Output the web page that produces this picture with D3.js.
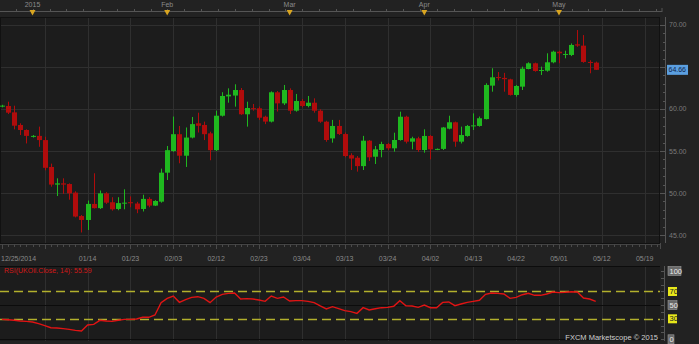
<!DOCTYPE html>
<html>
<head>
<meta charset="utf-8">
<script src="https://cdn.jsdelivr.net/npm/d3@7"></script>
<style>
  html, body { margin: 0; padding: 0; background: #222222; }
  svg { display: block; font-family: "Liberation Sans", Arial, sans-serif; }
</style>
</head>
<body>
<div id="chart"></div>
<script>
// daily UKOil candles, 12/25/2014 .. 05/11/2015
const opens  = [60.3,60.36,59.6,58.1,57.5,56.7,56.8,56.3,53.1,51.0,51.15,51.07,50.05,47.26,46.79,48.7,48.2,49.96,48.9,48.1,
  48.75,48.9,48.75,48.1,49.3,48.5,48.97,52.42,55.0,57.0,54.44,56.6,58.3,58.1,57.1,55.1,59.2,61.5,61.6,62.26,
  59.37,60.1,60.08,59.08,58.5,61.99,60.67,62.26,59.8,60.95,60.36,60.75,59.8,58.49,56.5,57.98,57.02,54.5,54.2,53.2,
  56.23,54.32,55.12,55.83,55.32,56.31,59.08,56.11,56.51,55.12,56.79,55.2,55.25,57.66,58.42,56.11,56.79,57.95,57.98,58.8,
  62.78,63.8,63.7,63.53,61.67,62.66,64.76,65.44,64.56,64.56,65.56,66.82,66.44,66.43,67.7,67.54,65.6,65.52]
const highs  = [60.5,60.87,60.39,58.3,57.58,56.9,57.9,56.7,53.5,51.75,51.75,51.15,50.2,47.38,49.1,52.35,50.3,50.1,49.5,49.5,
  50.44,49.6,48.95,49.8,49.5,49.15,52.9,55.6,59.1,57.98,57.8,59.05,59.56,58.5,57.3,59.8,62.0,62.46,62.94,62.5,
  60.87,60.6,60.3,59.2,62.1,62.14,62.86,62.46,61.79,61.2,61.55,61.27,59.96,58.6,58.7,58.7,57.2,54.73,54.4,56.8,
  56.3,55.6,56.1,55.96,57.18,59.68,59.2,56.7,56.7,57.58,56.9,55.3,57.86,59.2,58.5,57.9,58.1,59.48,59.1,63.06,
  64.85,64.4,64.3,63.6,62.86,65.04,65.56,65.52,65.04,66.63,66.94,66.94,66.94,67.8,69.4,68.8,65.8,65.64]
const lows   = [60.2,59.4,57.58,56.9,55.9,56.6,55.5,52.7,50.75,49.64,49.9,49.2,47.1,45.3,45.6,48.15,48.1,48.7,47.9,47.95,
  48.06,48.3,47.6,47.8,48.3,48.45,48.85,51.55,54.9,53.54,53.1,56.5,57.2,56.3,53.9,55.0,59.1,60.75,60.28,59.3,
  57.9,59.8,58.7,58.2,58.4,59.7,60.48,59.4,59.68,60.2,60.2,59.56,58.35,56.1,55.99,56.9,54.25,52.74,52.54,52.74,
  53.8,53.45,54.25,55.1,54.92,56.23,55.9,55.2,54.9,54.8,54.0,55.1,55.12,57.58,55.5,55.9,56.7,57.5,57.9,58.76,
  62.06,63.4,62.06,61.6,61.47,62.26,64.72,64.44,64.05,64.44,65.44,65.44,66.03,66.3,67.4,65.5,64.25,64.64]
const closes = [60.4,59.56,58.01,57.5,56.8,56.8,56.3,53.0,51.0,51.15,51.0,49.96,47.2,46.79,48.7,48.2,49.96,48.85,48.06,48.8,
  48.85,48.8,48.06,49.3,48.5,49.05,52.42,55.1,57.0,54.44,56.6,58.2,58.0,57.0,55.1,59.2,61.55,61.7,62.26,59.37,
  60.12,60.0,58.96,58.5,61.99,60.67,62.26,59.8,60.95,60.36,60.75,59.8,58.49,56.31,57.98,57.02,54.4,54.1,53.2,56.23,
  54.25,55.2,55.83,55.32,56.31,59.08,56.11,56.51,55.12,56.79,55.2,55.25,57.8,58.42,56.11,56.9,57.98,58.05,58.9,62.86,
  63.77,63.7,63.55,61.67,62.74,64.8,65.44,64.52,64.64,65.56,66.82,66.63,66.55,67.62,67.55,65.6,65.5,64.66]

// RSI(14), one value per candle
const rsi = [29.2,28.7,27.8,26.8,26.3,25.3,22.9,20.0,17.0,16.5,15.6,14.6,13.1,12.2,20.9,21.9,27.8,26.8,26.3,27.8,
  29.2,29.2,29.7,32.2,32.2,35.6,53.6,60.0,63.4,54.1,58.0,61.4,62.4,60.0,53.6,61.9,65.8,67.3,67.8,59.0,
  59.5,59.0,57.5,55.6,63.4,60.0,61.9,56.1,56.6,56.6,55.6,53.6,48.8,44.4,47.8,44.8,41.9,40.5,38.0,46.3,
  42.9,44.8,46.3,46.8,48.3,56.6,49.2,48.8,46.8,50.2,46.3,46.3,54.1,54.6,49.2,51.7,54.1,55.6,57.1,65.8,
  67.8,67.3,66.3,60.0,61.4,65.3,67.3,64.4,64.4,66.3,69.3,68.3,68.8,69.7,69.3,60.5,59.0,55.59]

const dateTickIdx = [0,14,21,28,35,42,49,56,63,70,77,84,91,98,105]
const dateTickLabels = ["12/25/2014","01/14","01/23","02/03","02/12","02/23","03/04","03/13","03/24","04/02","04/13","04/22","05/01","05/12","05/19"]
const monthIdx = [5,27,47,69,91]
const monthLabels = ["2015","Feb","Mar","Apr","May"]
const priceTicks = [45,50,55,60,65,70]
const rsiLevels = [100,70,50,30,0]

const W = 699, H = 344
const PL = 0, PR = 660, PT = 17, PB = 243
const RT = 266, RB = 341

const svg = d3.select("#chart").append("svg").attr("width", W).attr("height", H)

svg.append("rect").attr("width", W).attr("height", H).attr("fill", "#222222")

const x = d3.scaleLinear().domain([-0.31, 107.5]).range([PL, PR])
const y = d3.scaleLinear().domain([44.05, 70.95]).range([PB, PT])
const yr = d3.scaleLinear().domain([0, 100]).range([339.3, 271])

const defs = svg.append("defs")
defs.append("clipPath").attr("id", "clipMain").append("rect")
    .attr("x", PL).attr("y", PT).attr("width", PR - PL).attr("height", PB - PT)
defs.append("clipPath").attr("id", "clipRsi").append("rect")
    .attr("x", PL).attr("y", RT).attr("width", PR - PL).attr("height", RB - RT)

// ---- top strip with month markers
const topStrip = svg.append("g")
topStrip.append("line").attr("x1", 0).attr("x2", 662).attr("y1", 11.5).attr("y2", 11.5)
    .attr("stroke", "#555").attr("stroke-width", 1)
topStrip.append("line").attr("x1", 662).attr("x2", 662).attr("y1", 8).attr("y2", 12)
    .attr("stroke", "#555")
topStrip.selectAll("line.small")
    .data(d3.range(2.3, 107, 2.75))
    .join("line").attr("class", "small")
    .attr("x1", d => Math.round(x(d)) + 0.5).attr("x2", d => Math.round(x(d)) + 0.5)
    .attr("y1", 9).attr("y2", 11.5)
    .attr("stroke", "#555")
topStrip.selectAll("path.mark")
    .data(monthIdx)
    .join("path").attr("class", "mark")
    .attr("d", d => `M${x(d) - 3},10 L${x(d) + 3},10 L${x(d)},15.5 Z`)
    .attr("fill", "#d9a520")
topStrip.selectAll("text.month")
    .data(monthLabels)
    .join("text").attr("class", "month")
    .attr("x", (d, i) => x(monthIdx[i]))
    .attr("y", 7)
    .attr("text-anchor", "middle")
    .attr("font-size", "7px")
    .attr("fill", "#8a8a8a")
    .text(d => d)

// ---- main panel
svg.append("rect").attr("x", PL).attr("y", PT).attr("width", PR - PL).attr("height", PB - PT)
    .attr("fill", "#1c1c1c")

const grid = svg.append("g").attr("stroke", "#2f2f2f").attr("stroke-width", 1)
grid.selectAll("line.v")
    .data(d3.range(7, 106, 7))
    .join("line").attr("class", "v")
    .attr("x1", d => Math.round(x(d)) + 0.5).attr("x2", d => Math.round(x(d)) + 0.5)
    .attr("y1", PT).attr("y2", PB)
grid.selectAll("line.h")
    .data(priceTicks)
    .join("line").attr("class", "h")
    .attr("x1", PL).attr("x2", PR)
    .attr("y1", d => Math.round(y(d)) + 0.5).attr("y2", d => Math.round(y(d)) + 0.5)

svg.append("rect").attr("x", PL + 0.5).attr("y", PT + 0.5).attr("width", PR - PL - 1).attr("height", PB - PT)
    .attr("fill", "none").attr("stroke", "#111")

const green = "#1fb81f", red = "#b00c0c"
const candles = opens.map((o, i) => ({ i: i, o: o, h: highs[i], l: lows[i], c: closes[i] }))

const cg = svg.append("g").attr("clip-path", "url(#clipMain)")
cg.selectAll("line.wick")
    .data(candles)
    .join("line").attr("class", "wick")
    .attr("x1", d => Math.round(x(d.i)) + 0.5).attr("x2", d => Math.round(x(d.i)) + 0.5)
    .attr("y1", d => y(d.h)).attr("y2", d => y(d.l))
    .attr("stroke", d => d.c >= d.o ? green : red)
cg.selectAll("rect.body")
    .data(candles)
    .join("rect").attr("class", "body")
    .attr("x", d => Math.round(x(d.i)) - 2)
    .attr("width", 5)
    .attr("y", d => y(Math.max(d.o, d.c)))
    .attr("height", d => Math.max(1, Math.abs(y(d.o) - y(d.c))))
    .attr("fill", d => d.c >= d.o ? green : red)

// right price axis
const last = closes[closes.length - 1]
const ax = svg.append("g")
ax.append("line").attr("x1", 665.5).attr("x2", 665.5).attr("y1", PT).attr("y2", PB)
    .attr("stroke", "#555")
ax.selectAll("line.minor")
    .data(d3.range(45, 71, 1))
    .join("line").attr("class", "minor")
    .attr("x1", d => d % 5 === 0 ? 660 : 663).attr("x2", 665.5)
    .attr("y1", d => Math.round(y(d)) + 0.5).attr("y2", d => Math.round(y(d)) + 0.5)
    .attr("stroke", "#555")
// the 65.00 label sits under the last-price tag, so it is not shown
ax.selectAll("text")
    .data(priceTicks.filter(d => Math.abs(y(d) - y(last)) > 9))
    .join("text")
    .attr("x", 669).attr("y", d => y(d) + 2.5)
    .attr("font-size", "7px").attr("fill", "#7a7a7a")
    .text(d => d.toFixed(2))

ax.append("rect").attr("x", 667).attr("y", y(last) - 5).attr("width", 21).attr("height", 10)
    .attr("fill", "#5b9fe0")
ax.append("text").attr("x", 668.5).attr("y", y(last) + 2.5)
    .attr("font-size", "7px").attr("fill", "#10254a")
    .text(last.toFixed(2))

// date axis
const dx = svg.append("g")
dx.append("line").attr("x1", PL).attr("x2", PR).attr("y1", 244.5).attr("y2", 244.5).attr("stroke", "#444")
dx.selectAll("line.t")
    .data(d3.range(0, 108, 1))
    .join("line").attr("class", "t")
    .attr("x1", d => Math.round(x(d)) + 0.5).attr("x2", d => Math.round(x(d)) + 0.5)
    .attr("y1", 244.5).attr("y2", d => d % 7 === 0 ? 249 : 247)
    .attr("stroke", "#4a4a4a")
dx.append("line").attr("x1", 660.5).attr("x2", 660.5).attr("y1", 243).attr("y2", 249).attr("stroke", "#4a4a4a")
dx.selectAll("text")
    .data(dateTickLabels)
    .join("text")
    .attr("x", (d, i) => i === 0 ? 1 : x(dateTickIdx[i]))
    .attr("y", 260.5)
    .attr("text-anchor", (d, i) => i === 0 ? "start" : "middle")
    .attr("font-size", "7px").attr("fill", "#8a8a8a")
    .text(d => d)

// ---- RSI panel
svg.append("rect").attr("x", PL).attr("y", RT).attr("width", PR - PL).attr("height", RB - RT)
    .attr("fill", "#1c1c1c")
svg.append("g").attr("stroke", "#2f2f2f")
    .selectAll("line")
    .data(d3.range(7, 106, 7))
    .join("line")
    .attr("x1", d => Math.round(x(d)) + 0.5).attr("x2", d => Math.round(x(d)) + 0.5)
    .attr("y1", RT).attr("y2", RB)

const rg = svg.append("g")
rg.selectAll("line.lvl")
    .data([100, 50, 0])
    .join("line").attr("class", "lvl")
    .attr("x1", PL).attr("x2", PR)
    .attr("y1", d => d === 100 ? RT + 0.5 : Math.round(yr(d)) + 0.5)
    .attr("y2", d => d === 100 ? RT + 0.5 : Math.round(yr(d)) + 0.5)
    .attr("stroke", "#0c0c0c")
rg.selectAll("line.dash")
    .data([70, 30])
    .join("line").attr("class", "dash")
    .attr("x1", PL).attr("x2", PR)
    .attr("y1", d => Math.round(yr(d)) + 0.5).attr("y2", d => Math.round(yr(d)) + 0.5)
    .attr("stroke", "#b2b02c").attr("stroke-width", 1.5)
    .attr("stroke-dasharray", "9,5")

const line = d3.line().x((d, i) => x(i)).y(d => yr(d))
svg.append("path").datum(rsi)
    .attr("clip-path", "url(#clipRsi)")
    .attr("d", line)
    .attr("fill", "none").attr("stroke", "#e01414").attr("stroke-width", 1.4)

svg.append("text").attr("x", 4).attr("y", 273)
    .attr("font-size", "7px").attr("fill", "#d01818")
    .text("RSI(UKOil.Close, 14): " + rsi[rsi.length - 1].toFixed(2))

// RSI axis
const ra = svg.append("g")
ra.append("line").attr("x1", 664.5).attr("x2", 664.5).attr("y1", RT).attr("y2", RB).attr("stroke", "#555")
ra.selectAll("line.t")
    .data(d3.range(0, 101, 10))
    .join("line").attr("class", "t")
    .attr("x1", 661).attr("x2", 664.5)
    .attr("y1", d => Math.round(yr(d)) + 0.5).attr("y2", d => Math.round(yr(d)) + 0.5)
    .attr("stroke", "#555")
const lvlBox = ra.selectAll("g.lvl")
    .data(rsiLevels)
    .join("g").attr("class", "lvl")
    .attr("transform", d => `translate(668,${yr(d)})`)
lvlBox.append("rect")
    .attr("x", 0).attr("y", -4.5)
    .attr("width", d => d === 100 ? 13 : d === 0 ? 6 : 9).attr("height", 9)
    .attr("fill", d => d === 70 || d === 30 ? "#e8e81a" : "#6a6a6a")
    .attr("stroke", d => d === 70 || d === 30 ? "none" : "#9a9a9a")
    .attr("stroke-width", 0.6)
lvlBox.append("text")
    .attr("x", 1.5).attr("y", 2.5)
    .attr("font-size", "7.5px")
    .attr("fill", d => d === 70 || d === 30 ? "#222" : "#e8e8e8")
    .text(d => d)

svg.append("text").attr("x", 658).attr("y", 340)
    .attr("text-anchor", "end")
    .attr("font-size", "7.5px").attr("fill", "#cfcfcf")
    .text("FXCM Marketscope © 2015")
</script>
</body>
</html>
